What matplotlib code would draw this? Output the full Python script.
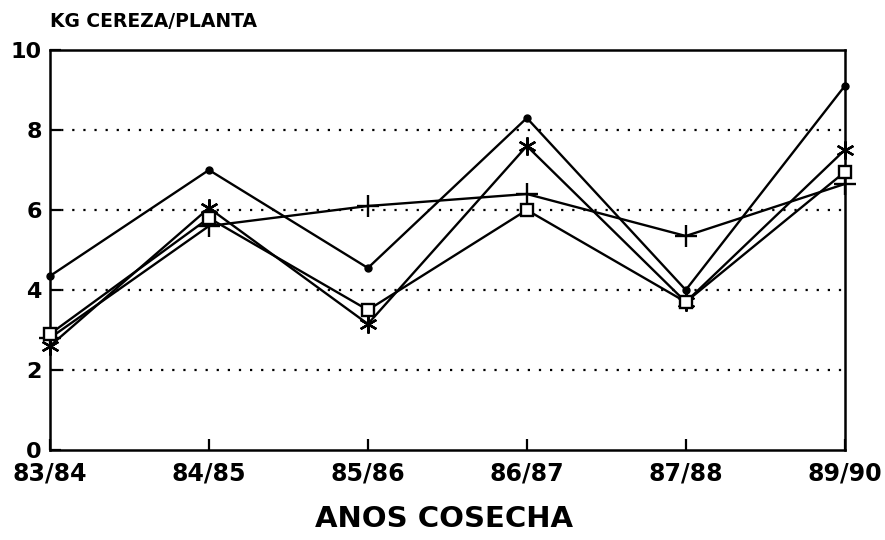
import matplotlib.pyplot as plt

plt.rcParams['font.family'] = ['DejaVu Sans']
plt.rcParams['font.weight'] = 'bold'

campanas = ['83/84', '84/85', '85/86', '86/87', '87/88', '89/90']
serie_punto = [4.35, 7.0, 4.55, 8.3, 4.0, 9.1]
serie_asterisco = [2.6, 6.05, 3.15, 7.6, 3.7, 7.5]
serie_cuadro = [2.9, 5.8, 3.5, 6.0, 3.7, 6.95]
serie_cruz = [2.8, 5.6, 6.1, 6.4, 5.35, 6.65]

x = list(range(len(campanas)))

fig = plt.figure(figsize=(8.85, 5.4), dpi=100)
ax = fig.add_axes([0.0565, 0.1667, 0.898, 0.7407])

for y in [2, 4, 6, 8]:
    ax.axhline(y, color='black', linestyle=(0, (1, 4)), linewidth=1.6, zorder=1)

ax.plot(x, serie_punto, color='black', linewidth=1.7, marker='o', markersize=5,
        zorder=3, clip_on=False)
ax.plot(x, serie_asterisco, color='black', linewidth=1.7, marker=(6, 2, 0), markersize=13,
        markeredgewidth=1.7, zorder=3, clip_on=False)
ax.plot(x, serie_cuadro, color='black', linewidth=1.7, marker='s', markersize=8,
        markerfacecolor='white', markeredgewidth=1.7, zorder=4, clip_on=False)
ax.plot(x, serie_cruz, color='black', linewidth=1.7, marker='+', markersize=16,
        markeredgewidth=1.7, zorder=3, clip_on=False)

ax.set_xlim(0, 5)
ax.set_ylim(0, 10)
ax.set_xticks(x)
ax.set_xticklabels(campanas)
ax.set_yticks([0, 2, 4, 6, 8, 10])
ax.tick_params(axis='both', direction='in', length=8, width=1.6, pad=6)
ax.tick_params(axis='x', labelsize=17, pad=8)
ax.tick_params(axis='y', labelsize=16)
for s in ax.spines.values():
    s.set_linewidth(1.8)

fig.text(0.502, 0.039, 'ANOS COSECHA', fontsize=21, fontweight='bold',
         ha='center', va='center')
fig.text(0.057, 0.96, 'KG CEREZA/PLANTA', fontsize=13.5, fontweight='bold',
         va='center')

fig.savefig('out.png', dpi=100)
